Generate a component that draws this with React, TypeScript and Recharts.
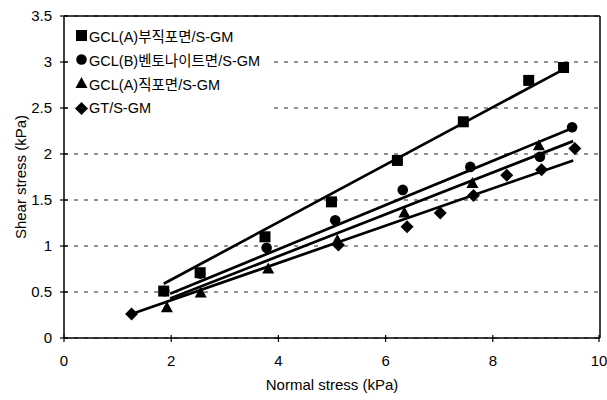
import React from 'react';
import {
  ComposedChart,
  Scatter,
  XAxis,
  YAxis,
  CartesianGrid,
  ReferenceLine,
} from 'recharts';

// measured points, x = normal stress (kPa), y = shear stress (kPa)
const gclANonwoven = [
  { x: 1.86, y: 0.51 },
  { x: 2.54, y: 0.71 },
  { x: 3.75, y: 1.1 },
  { x: 4.99, y: 1.48 },
  { x: 6.22, y: 1.93 },
  { x: 7.45, y: 2.35 },
  { x: 8.67, y: 2.8 },
  { x: 9.32, y: 2.94 },
];
const gclBBentonite = [
  { x: 1.87, y: 0.51 },
  { x: 2.54, y: 0.7 },
  { x: 3.78, y: 0.98 },
  { x: 5.06, y: 1.28 },
  { x: 6.32, y: 1.61 },
  { x: 7.58, y: 1.86 },
  { x: 8.88, y: 1.97 },
  { x: 9.48, y: 2.29 },
];
const gclAWoven = [
  { x: 1.92, y: 0.33 },
  { x: 2.55, y: 0.49 },
  { x: 3.81, y: 0.75 },
  { x: 5.1, y: 1.06 },
  { x: 6.35, y: 1.36 },
  { x: 7.62, y: 1.68 },
  { x: 8.86, y: 2.09 },
];
const gtSoil = [
  { x: 1.26, y: 0.26 },
  { x: 5.12, y: 1.01 },
  { x: 6.4, y: 1.21 },
  { x: 7.02, y: 1.36 },
  { x: 7.64, y: 1.55 },
  { x: 8.26, y: 1.77 },
  { x: 8.91, y: 1.83 },
  { x: 9.53, y: 2.06 },
];

// linear trend lines (end points)
const trendNonwoven = [{ x: 1.86, y: 0.59 }, { x: 9.32, y: 2.92 }];
const trendBentonite = [{ x: 1.98, y: 0.48 }, { x: 9.48, y: 2.28 }];
const trendWoven = [{ x: 1.98, y: 0.43 }, { x: 9.5, y: 2.14 }];
const trendGt = [{ x: 1.26, y: 0.26 }, { x: 9.5, y: 1.93 }];

const xTicks = [0, 2, 4, 6, 8, 10];
const yTicks = [0, 0.5, 1, 1.5, 2, 2.5, 3, 3.5];

const legendItems = [
  { name: 'GCL(A)부직포면/S-GM', shape: 'square' },
  { name: 'GCL(B)벤토나이트면/S-GM', shape: 'circle' },
  { name: 'GCL(A)직포면/S-GM', shape: 'triangle' },
  { name: 'GT/S-GM', shape: 'diamond' },
];

const FONT = 'Arial, "Liberation Sans", "Noto Sans CJK KR", sans-serif';
const TICK_SIZE = 4;
const X_TICK_GAP = 13;
const Y_TICK_GAP = 8;

function Marker({ kind, cx, cy }: { kind: string; cx: number; cy: number }) {
  if (kind === 'square') return <rect x={cx - 5.5} y={cy - 5.5} width={11} height={11} fill="#000" />;
  if (kind === 'circle') return <circle cx={cx} cy={cy} r={5.3} fill="#000" />;
  if (kind === 'triangle')
    return <polygon points={`${cx},${cy - 6.5} ${cx + 6},${cy + 4.5} ${cx - 6},${cy + 4.5}`} fill="#000" />;
  return <polygon points={`${cx},${cy - 6.5} ${cx + 6.5},${cy} ${cx},${cy + 6.5} ${cx - 6.5},${cy}`} fill="#000" />;
}

const markerShape = (kind: string) => (props: any) =>
  <Marker kind={kind} cx={props.cx} cy={props.cy} />;

const noShape = () => <g />;

// tick marks that cross the axis line, with the label
function XTick({ x, y, payload }: any) {
  const axisY = y - TICK_SIZE - X_TICK_GAP;
  return (
    <g>
      <line x1={x} x2={x} y1={axisY - 3} y2={axisY + 4} stroke="#000" strokeWidth={1.2} />
      <text x={x} y={y} dy="0.71em" textAnchor="middle" fontSize={15} fontFamily={FONT} fill="#000">
        {payload.value}
      </text>
    </g>
  );
}

function YTick({ x, y, payload }: any) {
  const axisX = x + TICK_SIZE + Y_TICK_GAP;
  return (
    <g>
      <line x1={axisX - 4} x2={axisX + 4} y1={y} y2={y} stroke="#000" strokeWidth={1.2} />
      <text x={x} y={y} dy="0.36em" textAnchor="end" fontSize={15} fontFamily={FONT} fill="#000">
        {payload.value}
      </text>
    </g>
  );
}

// legend sits inside the plot, top-left, on a white box
function LegendBox() {
  return (
    <div
      style={{
        position: 'absolute',
        left: 70,
        top: 22,
        background: '#fff',
        padding: '1px 10px 4px 5px',
        fontFamily: FONT,
        fontSize: 14.5,
        color: '#000',
      }}
    >
      {legendItems.map((item) => (
        <div key={item.name} style={{ display: 'flex', alignItems: 'center', height: 24.3 }}>
          <svg width={13} height={13} style={{ marginRight: 1 }}>
            <Marker kind={item.shape} cx={6.5} cy={6.5} />
          </svg>
          <span>{item.name}</span>
        </div>
      ))}
    </div>
  );
}

export default function App() {
  return (
    <div style={{ position: 'absolute', left: 0, top: 0, width: 607, height: 400, background: '#fff' }}>
      <ComposedChart
        width={607}
        height={400}
        margin={{ top: 16, right: 7, bottom: 0, left: 0 }}
      >
        <CartesianGrid
          horizontal
          vertical={false}
          stroke="#222"
          strokeDasharray="4 6"
        />
        <XAxis
          type="number"
          dataKey="x"
          domain={[0, 10]}
          ticks={xTicks}
          height={62}
          stroke="#000"
          strokeWidth={1.5}
          tickLine={false}
          tickSize={TICK_SIZE}
          tickMargin={X_TICK_GAP}
          tick={<XTick />}
          label={{
            value: 'Normal stress (kPa)',
            position: 'insideBottom',
            offset: 10,
            fill: '#000',
            fontSize: 15,
            fontFamily: FONT,
          }}
        />
        <YAxis
          type="number"
          dataKey="y"
          domain={[0, 3.5]}
          ticks={yTicks}
          width={64}
          stroke="#000"
          strokeWidth={1.5}
          tickLine={false}
          tickSize={TICK_SIZE}
          tickMargin={Y_TICK_GAP}
          tick={<YTick />}
          label={{
            content: ({ viewBox }: any) => (
              <text
                x={22}
                y={viewBox.y + viewBox.height / 2}
                transform={`rotate(-90, 22, ${viewBox.y + viewBox.height / 2})`}
                textAnchor="middle"
                dominantBaseline="middle"
                fontSize={15}
                fontFamily={FONT}
                fill="#000"
              >
                Shear stress (kPa)
              </text>
            ),
          }}
        />
        <ReferenceLine y={3.5} stroke="#000" strokeWidth={1.5} />
        <ReferenceLine x={10} stroke="#000" strokeWidth={1.5} />

        <Scatter data={trendNonwoven} shape={noShape} line={{ stroke: '#000', strokeWidth: 2.7 }} isAnimationActive={false} />
        <Scatter data={trendBentonite} shape={noShape} line={{ stroke: '#000', strokeWidth: 2.7 }} isAnimationActive={false} />
        <Scatter data={trendWoven} shape={noShape} line={{ stroke: '#000', strokeWidth: 2.7 }} isAnimationActive={false} />
        <Scatter data={trendGt} shape={noShape} line={{ stroke: '#000', strokeWidth: 2.7 }} isAnimationActive={false} />

        <Scatter data={gclBBentonite} shape={markerShape('circle')} isAnimationActive={false} />
        <Scatter data={gclANonwoven} shape={markerShape('square')} isAnimationActive={false} />
        <Scatter data={gclAWoven} shape={markerShape('triangle')} isAnimationActive={false} />
        <Scatter data={gtSoil} shape={markerShape('diamond')} isAnimationActive={false} />
      </ComposedChart>
      <LegendBox />
    </div>
  );
}
